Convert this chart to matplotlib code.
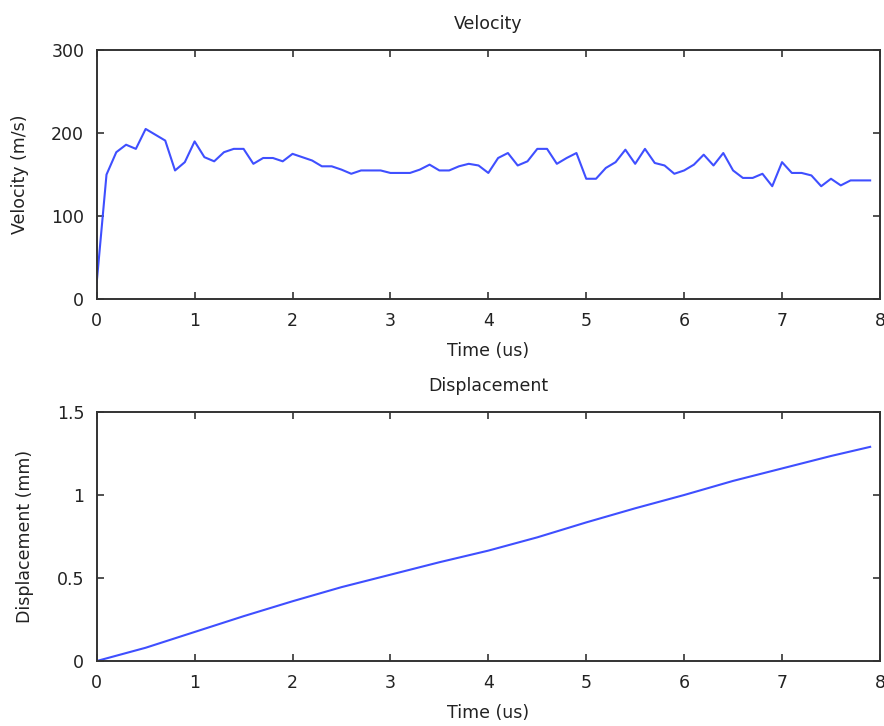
import numpy as np
import matplotlib
matplotlib.use("Agg")
import matplotlib.pyplot as plt

# ---- data ----
time_us = [0.0, 0.1, 0.2, 0.3, 0.4, 0.5, 0.6, 0.7, 0.8, 0.9,
           1.0, 1.1, 1.2, 1.3, 1.4, 1.5, 1.6, 1.7, 1.8, 1.9,
           2.0, 2.1, 2.2, 2.3, 2.4, 2.5, 2.6, 2.7, 2.8, 2.9,
           3.0, 3.1, 3.2, 3.3, 3.4, 3.5, 3.6, 3.7, 3.8, 3.9,
           4.0, 4.1, 4.2, 4.3, 4.4, 4.5, 4.6, 4.7, 4.8, 4.9,
           5.0, 5.1, 5.2, 5.3, 5.4, 5.5, 5.6, 5.7, 5.8, 5.9,
           6.0, 6.1, 6.2, 6.3, 6.4, 6.5, 6.6, 6.7, 6.8, 6.9,
           7.0, 7.1, 7.2, 7.3, 7.4, 7.5, 7.6, 7.7, 7.8, 7.9]
velocity = [20, 150, 177, 186, 181, 205, 198, 191, 155, 165,
            190, 171, 166, 177, 181, 181, 163, 170, 170, 166,
            175, 171, 167, 160, 160, 156, 151, 155, 155, 155,
            152, 152, 152, 156, 162, 155, 155, 160, 163, 161,
            152, 170, 176, 161, 166, 181, 181, 163, 170, 176,
            145, 145, 158, 165, 180, 163, 181, 164, 161, 151,
            155, 162, 174, 161, 176, 155, 146, 146, 151, 136,
            165, 152, 152, 149, 136, 145, 137, 143, 143, 143]

disp_time_us = [0.0, 0.5, 1.0, 1.5, 2.0, 2.5, 3.0, 3.5, 4.0, 4.5,
                5.0, 5.5, 6.0, 6.5, 7.0, 7.5, 7.9]
displacement = [0.0, 0.08, 0.175, 0.27, 0.36, 0.445, 0.52, 0.595, 0.665, 0.745,
                0.835, 0.92, 1.0, 1.085, 1.16, 1.235, 1.29]

# ---- styling ----
plt.rcParams['font.family'] = ['DejaVu Sans']
txt = '#222222'
line_col = '#3f4fff'
fs = 12.5

fig = plt.figure(figsize=(8.84, 7.26), dpi=100)
ax1 = fig.add_axes([0.1094, 0.588, 0.886, 0.343])
ax2 = fig.add_axes([0.1094, 0.0895, 0.886, 0.343])


def style(ax):
    for s in ax.spines.values():
        s.set_color('#333333')
        s.set_linewidth(1.4)
    ax.tick_params(direction='in', length=5, width=1.2, colors='#333333',
                   top=True, right=True, labelsize=fs, labelcolor=txt)
    ax.tick_params(axis='x', pad=9)
    ax.tick_params(axis='y', pad=9)
    ax.set_xlim(0, 8)
    ax.set_xticks(range(0, 9))


ax1.plot(time_us, velocity, color=line_col, lw=1.5)
style(ax1)
ax1.set_ylim(0, 300)
ax1.set_yticks([0, 100, 200, 300])
ax1.set_title('Velocity', fontsize=fs, color=txt, pad=15)
ax1.set_xlabel('Time (us)', fontsize=fs, color=txt, labelpad=9)
ax1.set_ylabel('Velocity (m/s)', fontsize=fs, color=txt, labelpad=16)

ax2.plot(disp_time_us, displacement, color=line_col, lw=1.5)
style(ax2)
ax2.set_ylim(0, 1.5)
ax2.set_yticks([0, 0.5, 1, 1.5])
ax2.set_yticklabels(['0', '0.5', '1', '1.5'])
ax2.set_title('Displacement', fontsize=fs, color=txt, pad=15)
ax2.set_xlabel('Time (us)', fontsize=fs, color=txt, labelpad=9)
ax2.set_ylabel('Displacement (mm)', fontsize=fs, color=txt, labelpad=16)

fig.savefig('out.png', dpi=100)
